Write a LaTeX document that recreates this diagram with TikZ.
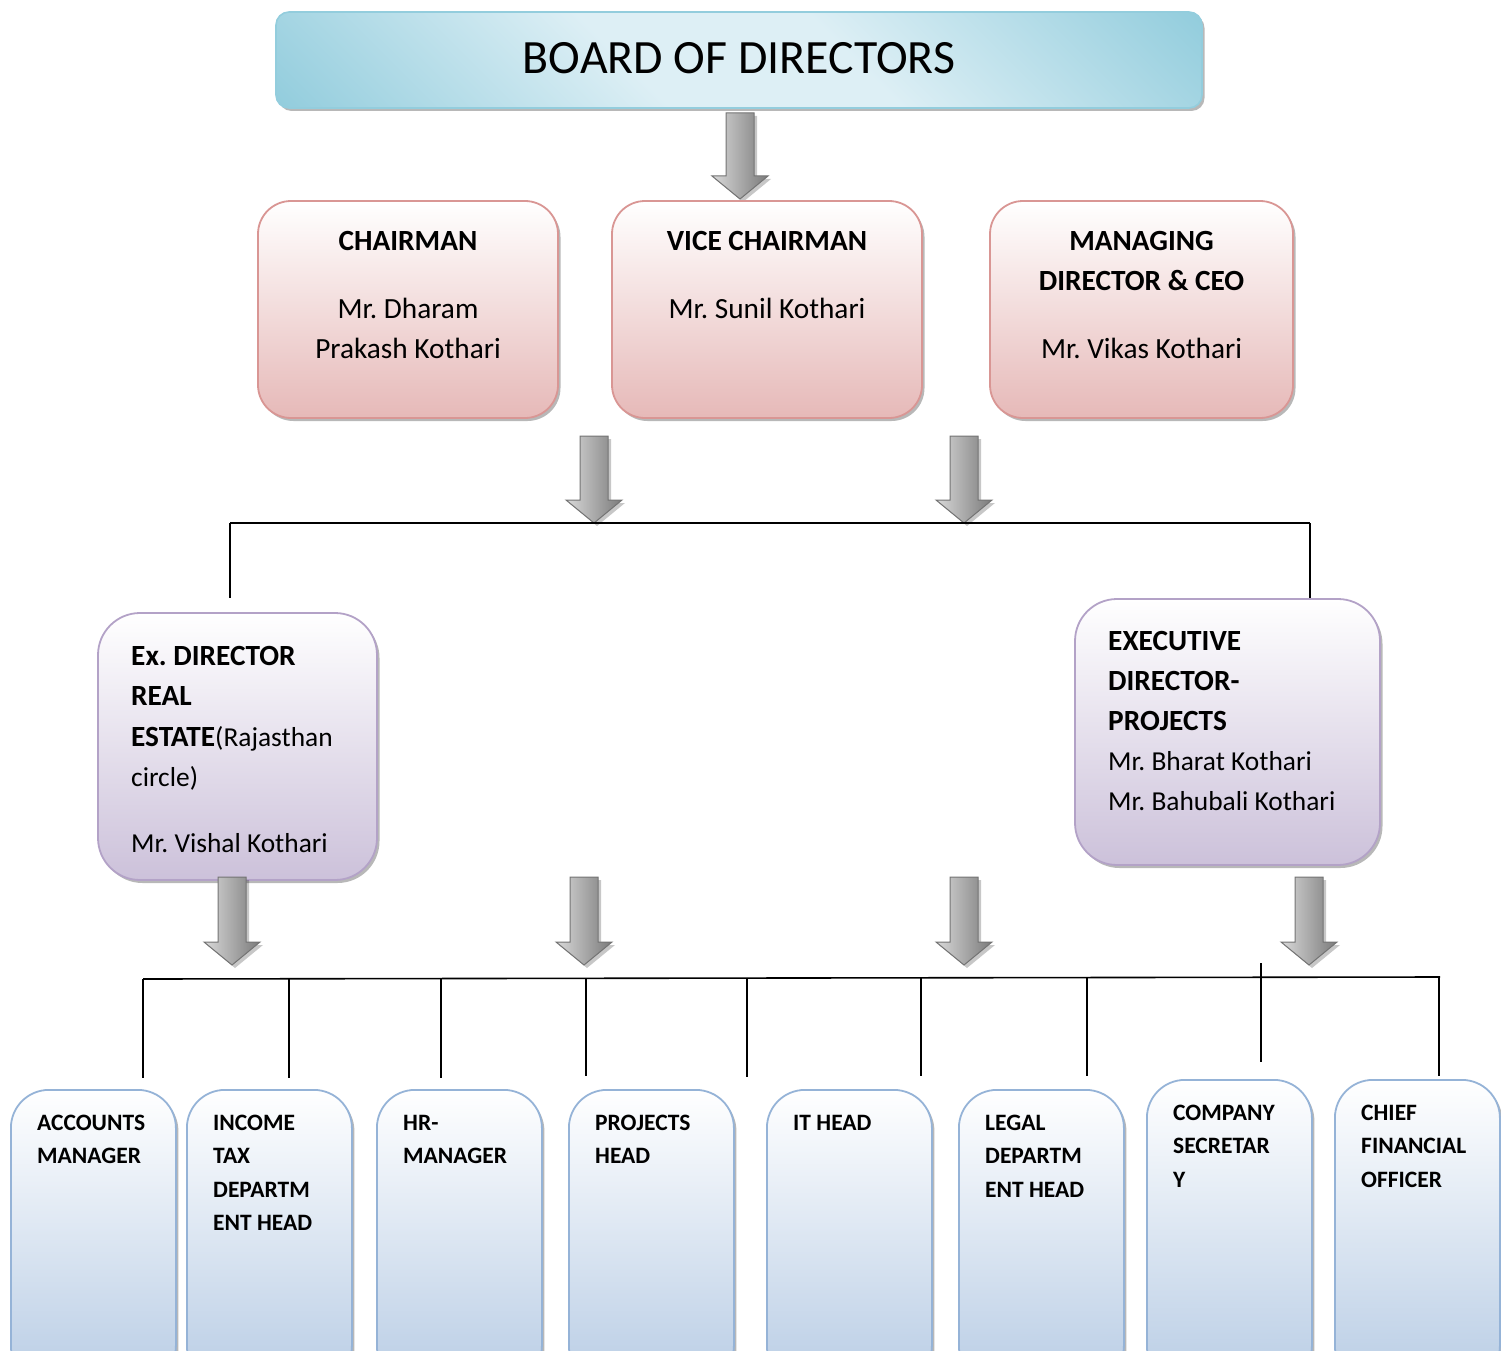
\documentclass[tikz,border=0pt]{standalone}
\usepackage{fontspec}
\setmainfont{Carlito}
\usetikzlibrary{shadows}
\frenchspacing
\definecolor{bdark}{HTML}{93CDDD}
\definecolor{blight}{HTML}{DDEFF5}
\definecolor{pinkfill}{HTML}{E6B9B8}
\definecolor{pinkline}{HTML}{D99694}
\definecolor{purpfill}{HTML}{CCC1DA}
\definecolor{purpline}{HTML}{B3A2C7}
\definecolor{bluefill}{HTML}{B9CDE5}
\definecolor{blueline}{HTML}{95B3D7}
\pgfdeclareverticalshading{boardshade}{100bp}{color(0bp)=(bdark); color(15bp)=(bdark); color(42bp)=(blight); color(58bp)=(blight); color(85bp)=(bdark); color(100bp)=(bdark)}
\newcommand{\tb}[1]{{\fontsize{29.3}{40}\selectfont\bfseries #1}}
\tikzset{
  myshadow/.style={drop shadow={shadow xshift=2.5pt, shadow yshift=-3pt, fill=black, opacity=0.28}},
  boardbox/.style={draw=bdark, line width=1.6pt, rounded corners=13pt, shading=boardshade, shading angle=-45, myshadow},
  pinkbox/.style={draw=pinkline, line width=1.8pt, rounded corners=33pt, top color=white, bottom color=pinkfill, myshadow},
  purpbox/.style={draw=purpline, line width=1.8pt, rounded corners=42pt, top color=white, bottom color=purpfill, myshadow},
  bluebox/.style={draw=blueline, line width=1.8pt, rounded corners=38pt, top color=white, bottom color=bluefill, myshadow,
    minimum width=165, anchor=north west},
  arrowshape/.style={draw=black!55, line width=1pt, left color=black!15, right color=black!52,
    drop shadow={shadow xshift=3pt, shadow yshift=-3pt, fill=black, opacity=0.22}},
  bus/.style={line width=1.6pt, black},
  droplink/.style={line width=1.2pt, black},
  midtxt/.style={inner sep=0, anchor=north, align=center, font=\fontsize{29.3}{40}\selectfont},
  lefttxt/.style={inner sep=0, anchor=north west, align=left, font=\fontsize{27.4}{40.5}\selectfont},
  smalltxt/.style={inner sep=0, anchor=north west, align=left, font=\fontsize{23.5}{33.5}\selectfont\bfseries},
}
\newcommand{\blockarr}[3]{%
  \path[arrowshape] (#1-14,#2) -- (#1+14,#2) -- (#1+14,#3-23) -- (#1+28,#3-23) -- (#1,#3)
     -- (#1-28,#3-23) -- (#1-14,#3-23) -- cycle;}
\begin{document}
\begin{tikzpicture}[x=1pt,y=-1pt]
\useasboundingbox (0,0) rectangle (1501,1351);

% Board
\node[boardbox, minimum width=926, minimum height=96] (board) at (739,60) {};
\node[inner sep=0, anchor=base, font=\fontsize{47.8}{57}\selectfont] (boardtxt) at (739,74) {BOARD OF DIRECTORS};

% top arrow
\blockarr{740}{113}{199}

% pink boxes
\node[pinkbox, minimum width=300, minimum height=217] (chair) at (408,309.5) {};
\node[pinkbox, minimum width=310, minimum height=217] (vice) at (767,309.5) {};
\node[pinkbox, minimum width=303, minimum height=217] (md) at (1141.5,309.5) {};

\node[midtxt] (chairtxt) at (408,222) {\strut\tb{CHAIRMAN}\\[28pt] Mr. Dharam\\ Prakash Kothari};
\node[midtxt] (vicetxt) at (767,222) {\strut\tb{VICE CHAIRMAN}\\[28pt] Mr. Sunil Kothari};
\node[midtxt] (mdtxt) at (1141.5,222) {\strut\tb{MANAGING}\\ \tb{DIRECTOR \& CEO}\\[28pt] Mr. Vikas Kothari};

% middle arrows
\blockarr{594}{436}{523}
\blockarr{964}{436}{523}

% purple boxes
\node[purpbox, minimum width=279, minimum height=267] (exd) at (237.5,746.5) {};
\node[purpbox, minimum width=305, minimum height=266] (exe) at (1227.5,732) {};
\node[lefttxt] (exdtxt) at (131,636.6) {\strut\tb{Ex. DIRECTOR}\\ \tb{REAL}\\ \tb{ESTATE}(Rajasthan\\ circle)\\[25pt] Mr. Vishal Kothari};
\node[lefttxt, font=\fontsize{27.4}{40}\selectfont] (exetxt) at (1108,622) {\strut\tb{EXECUTIVE}\\ \tb{DIRECTOR-}\\ \tb{PROJECTS}\\ Mr. Bharat Kothari\\ Mr. Bahubali Kothari};

% middle bus
\coordinate (busL) at (230,523);
\coordinate (busR) at (1310,523);
\coordinate (exdin) at (230,598);
\draw[bus] (busL) -- (busR);
\draw[droplink] (busL) -- (exdin);
\draw[droplink] (busR) -- (exe.north -| busR);

% lower arrows
\blockarr{232}{877}{965}
\blockarr{584}{877}{965}
\blockarr{964}{877}{965}
\blockarr{1309}{877}{965}

% lower bus
\coordinate (lbL) at (143,979);
\coordinate (lbR) at (1440,977);
\draw[bus] (lbL) -- (lbR);
\foreach \x/\yt/\yb [count=\i] in {143/979/1078, 289/979/1078, 441/979/1078, 586/978/1076, 747/978/1077, 921/978/1076, 1087/977/1076, 1261/963/1062, 1439/977/1076} {
  \coordinate (dt\i) at (\x,\yt);
  \coordinate (db\i) at (\x,\yb);
  \draw[droplink] (dt\i) -- (db\i);
}

% bottom boxes
\node[bluebox, minimum height=294] (acc) at (10,1089) {};
\node[bluebox, minimum height=294] (itax) at (186,1089) {};
\node[bluebox, minimum height=294] (hr) at (376,1089) {};
\node[bluebox, minimum height=294] (proj) at (568,1089) {};
\node[bluebox, minimum height=294] (it) at (766,1089) {};
\node[bluebox, minimum height=294] (legal) at (958,1089) {};
\node[bluebox, minimum height=304] (cs) at (1146,1079) {};
\node[bluebox, minimum height=304] (cfo) at (1334,1079) {};

\node[smalltxt] (acctxt) at (37,1106.5) {\strut ACCOUNTS\\ MANAGER};
\node[smalltxt] (itaxtxt) at (213,1106.5) {\strut INCOME\\ TAX\\ DEPARTM\\ ENT HEAD};
\node[smalltxt] (hrtxt) at (403,1106.5) {\strut HR-\\ MANAGER};
\node[smalltxt] (projtxt) at (595,1106.5) {\strut PROJECTS\\ HEAD};
\node[smalltxt] (ittxt) at (793,1106.5) {\strut IT HEAD};
\node[smalltxt] (legaltxt) at (985,1106.5) {\strut LEGAL\\ DEPARTM\\ ENT HEAD};
\node[smalltxt] (cstxt) at (1173,1096.5) {\strut COMPANY\\ SECRETAR\\ Y};
\node[smalltxt] (cfotxt) at (1361,1096.5) {\strut CHIEF\\ FINANCIAL\\ OFFICER};
\end{tikzpicture}
\end{document}
